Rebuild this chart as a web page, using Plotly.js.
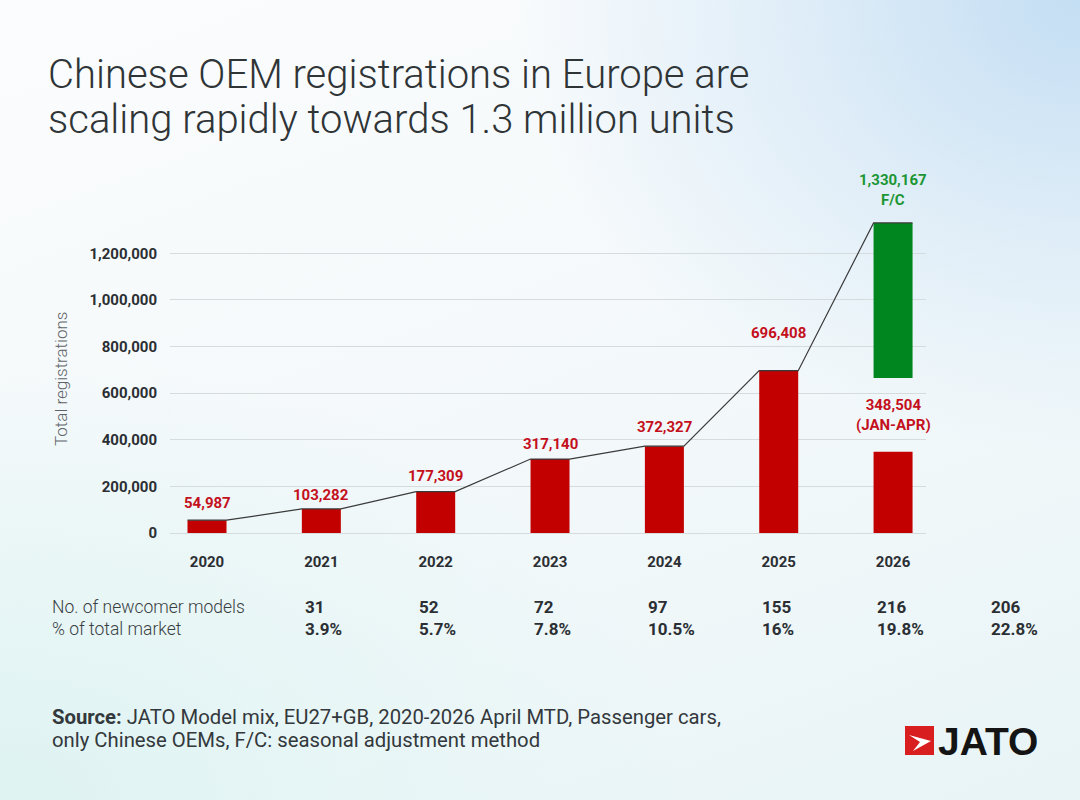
<!DOCTYPE html>
<html>
<head>
<meta charset="utf-8">
<script src="https://cdn.plot.ly/plotly-3.0.1.min.js"></script>
<style>
  html, body { margin: 0; padding: 0; }
  body {
    width: 1080px; height: 800px; overflow: hidden;
    background:
      radial-gradient(ellipse 70% 75% at 100% 0%, rgba(196,222,243,1) 0%, rgba(210,230,246,0.6) 40%, rgba(230,240,248,0) 75%),
      radial-gradient(ellipse 80% 70% at 0% 100%, rgba(222,243,242,1) 0%, rgba(228,245,244,0.6) 45%, rgba(240,248,248,0) 80%),
      linear-gradient(160deg, #fbfcfd 0%, #f2f8fa 60%, #e8f4f6 100%);
  }
  #chart { width: 1080px; height: 800px; }
</style>
</head>
<body>
<div id="chart"></div>
<script>
// ---- data ----
const years = ['2020', '2021', '2022', '2023', '2024', '2025', '2026'];
const registrations = [54987, 103282, 177309, 317140, 372327, 696408, 348504];
const forecastTotal = 1330167;
const forecastBase = 665000;
const newcomerModels = ['31', '52', '72', '97', '155', '216', '206'];
const marketShare = ['3.9%', '5.7%', '7.8%', '10.5%', '16%', '19.8%', '22.8%'];
const yTickVals = [0, 200000, 400000, 600000, 800000, 1000000, 1200000];
const yTickText = ['0', '200,000', '400,000', '600,000', '800,000', '1,000,000', '1,200,000'];

// ---- layout constants ----
const W = 1080, H = 800;
const M = { l: 170, r: 154, t: 160, b: 267 };
const plotW = W - M.l - M.r, plotH = H - M.t - M.b;
const px = v => (v - M.l) / plotW;          // pixel x -> paper
const py = v => (H - M.b - v) / plotH;      // pixel y -> paper
const XR = [-0.3236, 6.288];
const xToPaper = v => (v - XR[0]) / (XR[1] - XR[0]);
const barW = 0.341;
const RED = '#c20000', REDTXT = '#c4101c', GREEN = '#00861e', GREENTXT = '#1c9634';
const FONT = 'Roboto, "Open Sans", sans-serif';
const LIGHT = '"Roboto Light", Roboto, "Open Sans", sans-serif';

const idx = years.map((_, i) => i);

const bars = {
  type: 'bar', x: idx, y: registrations, width: barW,
  marker: { color: RED, line: { width: 0 } },
  hoverinfo: 'skip', showlegend: false
};
const fcBar = {
  type: 'bar', x: [years.length - 1], y: [forecastTotal - forecastBase], base: [forecastBase],
  width: barW, marker: { color: GREEN, line: { width: 0 } },
  hoverinfo: 'skip', showlegend: false
};
// connecting line along bar tops
const lx = [], ly = [];
idx.forEach(i => {
  const v = (i === years.length - 1) ? forecastTotal : registrations[i];
  lx.push(i - barW / 2, i + barW / 2);
  ly.push(v, v);
});
const line = {
  type: 'scatter', mode: 'lines', x: lx, y: ly,
  line: { color: '#3a3a3a', width: 1.2 }, hoverinfo: 'skip', showlegend: false
};

const fmt = n => n.toLocaleString('en-US');
const labelLift = [6, 3, 5, 4, 8, 27];

const ann = [];
// bar value labels
registrations.forEach((v, i) => {
  if (i === years.length - 1) return;
  ann.push({
    x: i, y: v, xref: 'x', yref: 'y', text: fmt(v), showarrow: false,
    yanchor: 'bottom', yshift: labelLift[i],
    font: { family: FONT, size: 15, color: REDTXT, weight: 700 }
  });
});
const last = years.length - 1;
ann.push({
  x: last, y: registrations[last], xref: 'x', yref: 'y',
  text: fmt(registrations[last]) + '<br>(JAN-APR)', showarrow: false,
  yanchor: 'bottom', yshift: 16,
  font: { family: FONT, size: 15, color: REDTXT, weight: 700 }
});
ann.push({
  x: last, y: forecastTotal, xref: 'x', yref: 'y',
  text: fmt(forecastTotal) + '<br>F/C', showarrow: false,
  yanchor: 'bottom', yshift: 12,
  font: { family: FONT, size: 15, color: GREENTXT, weight: 700 }
});

// title
ann.push({
  x: px(46), y: py(74), xref: 'paper', yref: 'paper', xanchor: 'left', yanchor: 'middle',
  text: 'Chinese OEM registrations in Europe are', showarrow: false,
  font: { family: LIGHT, size: 40, color: '#2f3437', weight: 300 }
});
ann.push({
  x: px(46), y: py(120), xref: 'paper', yref: 'paper', xanchor: 'left', yanchor: 'middle',
  text: 'scaling rapidly towards 1.3 million units', showarrow: false,
  font: { family: LIGHT, size: 40, color: '#2f3437', weight: 300 }
});
// y axis title
ann.push({
  x: px(61), y: py(379), xref: 'paper', yref: 'paper', xanchor: 'center', yanchor: 'middle',
  text: 'Total registrations', textangle: -90, showarrow: false,
  font: { family: LIGHT, size: 17, color: '#5e6368', weight: 300 }
});
// table rows
ann.push({
  x: px(50), y: py(607), xref: 'paper', yref: 'paper', xanchor: 'left', yanchor: 'middle',
  text: 'No. of newcomer models', showarrow: false,
  font: { family: LIGHT, size: 17.5, color: '#3a3f44', weight: 300 }
});
ann.push({
  x: px(50), y: py(629), xref: 'paper', yref: 'paper', xanchor: 'left', yanchor: 'middle',
  text: '% of total market', showarrow: false,
  font: { family: LIGHT, size: 17.5, color: '#3a3f44', weight: 300 }
});
newcomerModels.forEach((t, j) => {
  ann.push({
    x: xToPaper(j + 0.84), y: py(607), xref: 'paper', yref: 'paper', xanchor: 'left', yanchor: 'middle',
    text: t, showarrow: false,
    font: { family: FONT, size: 17, color: '#2b2f33', weight: 700 }
  });
});
marketShare.forEach((t, j) => {
  ann.push({
    x: xToPaper(j + 0.84), y: py(629), xref: 'paper', yref: 'paper', xanchor: 'left', yanchor: 'middle',
    text: t, showarrow: false,
    font: { family: FONT, size: 17, color: '#2b2f33', weight: 700 }
  });
});
// source
ann.push({
  x: px(50), y: py(717), xref: 'paper', yref: 'paper', xanchor: 'left', yanchor: 'middle',
  text: '<b>Source:</b> JATO Model mix, EU27+GB, 2020-2026 April MTD, Passenger cars,', showarrow: false,
  font: { family: FONT, size: 20.3, color: '#33383c' }
});
ann.push({
  x: px(50), y: py(740), xref: 'paper', yref: 'paper', xanchor: 'left', yanchor: 'middle',
  text: 'only Chinese OEMs, F/C: seasonal adjustment method', showarrow: false,
  font: { family: FONT, size: 20.3, color: '#33383c' }
});
// logo text
ann.push({
  x: px(936), y: py(741), xref: 'paper', yref: 'paper', xanchor: 'left', yanchor: 'middle',
  text: 'JATO', showarrow: false,
  font: { family: '"Liberation Sans", Arial, sans-serif', size: 39, color: '#141414', weight: 700 }
});

// logo shapes
const arrowPts = [[909, 735], [931, 741], [913, 751], [920, 742]];
const arrowPath = 'M ' + arrowPts.map(p => px(p[0]) + ',' + py(p[1])).join(' L ') + ' Z';
const shapes = [
  { type: 'rect', xref: 'paper', yref: 'paper', x0: px(905), x1: px(934), y0: py(755), y1: py(726),
    fillcolor: '#d81e1e', line: { width: 0 } },
  { type: 'path', xref: 'paper', yref: 'paper', path: arrowPath, fillcolor: '#ffffff', line: { width: 0 } }
];

const layout = {
  width: W, height: H,
  margin: M,
  paper_bgcolor: 'rgba(0,0,0,0)', plot_bgcolor: 'rgba(0,0,0,0)',
  barmode: 'overlay',
  showlegend: false,
  xaxis: {
    range: XR, tickvals: idx, ticktext: years,
    showgrid: false, zeroline: false, showline: false, ticks: '',
    ticklabelstandoff: 18,
    tickfont: { family: FONT, size: 15, color: '#2b2f33', weight: 700 },
    fixedrange: true
  },
  yaxis: {
    range: [0, 1600000], tickvals: yTickVals, ticktext: yTickText,
    showgrid: true, gridcolor: '#d6dbde', gridwidth: 1,
    zeroline: true, zerolinecolor: '#d6dbde', zerolinewidth: 1,
    showline: false, ticks: '', ticklabelstandoff: 12,
    tickfont: { family: FONT, size: 15, color: '#2b2f33', weight: 700 },
    fixedrange: true
  },
  annotations: ann,
  shapes: shapes
};

Plotly.newPlot('chart', [bars, fcBar, line], layout, { staticPlot: true, displayModeBar: false });
</script>
</body>
</html>
